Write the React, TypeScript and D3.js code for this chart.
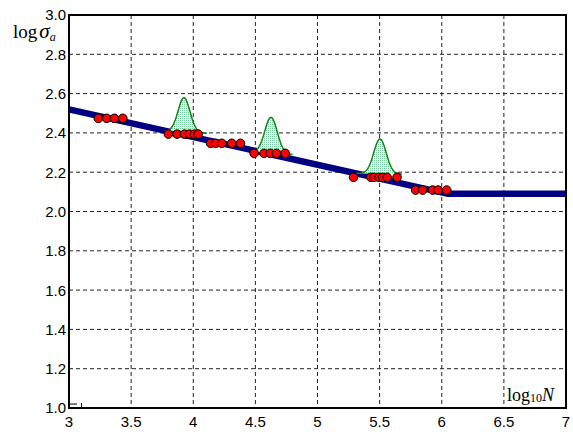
import React from "react";
import * as d3 from "d3";

const xTicks = [3, 3.5, 4, 4.5, 5, 5.5, 6, 6.5, 7];
const xTickLabels = ["3", "3.5", "4", "4.5", "5", "5.5", "6", "6.5", "7"];
const yTicks = [1.0, 1.2, 1.4, 1.6, 1.8, 2.0, 2.2, 2.4, 2.6, 2.8, 3.0];
const yTickLabels = ["1.0", "1.2", "1.4", "1.6", "1.8", "2.0", "2.2", "2.4", "2.6", "2.8", "3.0"];

// S-N fit line (log10 N, log sigma_a)
const lineX = [3, 6.05, 7];
const lineY = [2.52, 2.09, 2.09];

// test points
const pointsX = [
  3.236, 3.304, 3.365, 3.433,
  3.80, 3.87, 3.93, 3.97, 4.01, 4.04,
  4.14, 4.18, 4.23, 4.31, 4.38,
  4.49, 4.57, 4.62, 4.67, 4.74,
  5.29, 5.43, 5.455, 5.495, 5.525, 5.56, 5.64,
  5.79, 5.846, 5.927, 5.97, 6.04,
];
const pointsY = [
  2.474, 2.474, 2.474, 2.474,
  2.394, 2.394, 2.394, 2.394, 2.394, 2.394,
  2.347, 2.347, 2.347, 2.347, 2.347,
  2.296, 2.296, 2.296, 2.296, 2.296,
  2.174, 2.174, 2.174, 2.174, 2.174, 2.174, 2.174,
  2.109, 2.109, 2.109, 2.109, 2.109,
];

// distribution curves: centre, sigma, left/right extent, baseline left/right, peak
const curveCenter = [3.926, 4.626, 5.503];
const curveSigma = [0.048, 0.05, 0.05];
const curveLeft = [3.77, 4.455, 5.31];
const curveRight = [4.11, 4.80, 5.68];
const curveBaseL = [2.41, 2.305, 2.194];
const curveBaseR = [2.398, 2.29, 2.19];
const curvePeak = [2.579, 2.479, 2.369];

const W = 573;
const H = 432;
const L = 69, R = 566, T = 15, B = 408;

export default function App() {
  const x = d3.scaleLinear().domain([3, 7]).range([L, R]);
  const y = d3.scaleLinear().domain([1, 3]).range([B, T]);

  const fitLine = d3
    .line<number>()
    .x((_, i) => x(lineX[i]))
    .y((d) => y(d))(lineY) as string;

  const curves = curveCenter.map((c, k) => {
    const n = 60;
    const xs = d3.range(n + 1).map((i) => curveLeft[k] + ((curveRight[k] - curveLeft[k]) * i) / n);
    const base = (xv: number) =>
      curveBaseL[k] + ((curveBaseR[k] - curveBaseL[k]) * (xv - curveLeft[k])) / (curveRight[k] - curveLeft[k]);
    const h = curvePeak[k] - base(c);
    const top = xs.map((xv) => [xv, base(xv) + h * Math.exp(-((xv - c) ** 2) / (2 * curveSigma[k] ** 2))]);
    const area = d3
      .area<number[]>()
      .x((d) => x(d[0]))
      .y0((d) => y(base(d[0])))
      .y1((d) => y(d[1]))(top) as string;
    const ln = d3
      .line<number[]>()
      .x((d) => x(d[0]))
      .y((d) => y(d[1]))(top) as string;
    return { area, ln };
  });

  const sans = "'Liberation Sans', Arial, Helvetica, sans-serif";
  const serif = "'Liberation Serif', 'Times New Roman', serif";

  return (
    <svg width={W} height={H} style={{ position: "absolute", left: 0, top: 0, background: "#fff" }}>
      <defs>
        <pattern id="dots" width="2" height="2" patternUnits="userSpaceOnUse">
          <rect width="2" height="2" fill="#ffffff" />
          <rect width="1" height="1" fill="#6fcf97" />
        </pattern>
      </defs>
      <rect width={W} height={H} fill="#fff" />
      {/* grid */}
      {xTicks.slice(1, -1).map((t) => (
        <line key={"gx" + t} x1={x(t)} x2={x(t)} y1={T} y2={B} stroke="#222" strokeWidth={1} strokeDasharray="4,3" />
      ))}
      {yTicks.slice(1, -1).map((t) => (
        <line key={"gy" + t} x1={L} x2={R} y1={y(t)} y2={y(t)} stroke="#222" strokeWidth={1} strokeDasharray="4,3" />
      ))}
      {/* fit line */}
      <path d={fitLine} fill="none" stroke="#000080" strokeWidth={6.5} />
      {/* distribution curves */}
      {curves.map((c, i) => (
        <g key={"c" + i}>
          <path d={c.area} fill="url(#dots)" stroke="none" />
          <path d={c.ln} fill="none" stroke="#1a7f1a" strokeWidth={1.5} />
        </g>
      ))}
      {/* points */}
      {pointsX.map((px, i) => (
        <circle key={"p" + i} cx={x(px)} cy={y(pointsY[i])} r={4.3} fill="#ff0000" stroke="#000" strokeWidth={1} />
      ))}
      {/* frame */}
      <rect x={L} y={T} width={R - L} height={B - T} fill="none" stroke="#000" strokeWidth={2} />
      {/* minor ticks */}
      <line x1={L} x2={L + 8} y1={y(1.02)} y2={y(1.02)} stroke="#000" strokeWidth={1} />
      <line x1={x(3.1)} x2={x(3.1)} y1={B} y2={B - 5} stroke="#000" strokeWidth={1} />
      {/* y tick labels */}
      {yTicks.map((t, i) => (
        <text key={"yl" + t} x={L - 3} y={y(t)} dy="0.36em" textAnchor="end" fontFamily={sans} fontSize={15}>
          {yTickLabels[i]}
        </text>
      ))}
      {/* x tick labels */}
      {xTicks.map((t, i) => (
        <text key={"xl" + t} x={x(t)} y={427} textAnchor="middle" fontFamily={sans} fontSize={15}>
          {xTickLabels[i]}
        </text>
      ))}
      {/* y axis label */}
      <text x={13} y={38} fontFamily={serif} fontSize={19}>
        log
        <tspan dx={2} fontStyle="italic" fontSize={21}>σ</tspan>
        <tspan fontStyle="italic" fontSize={12} dy={3}>a</tspan>
      </text>
      {/* x axis label */}
      <text x={507} y={401} fontFamily={serif} fontSize={18}>
        log
        <tspan fontSize={12} dy={1}>10</tspan>
        <tspan fontStyle="italic" fontSize={18} dy={-1}>N</tspan>
      </text>
    </svg>
  );
}
